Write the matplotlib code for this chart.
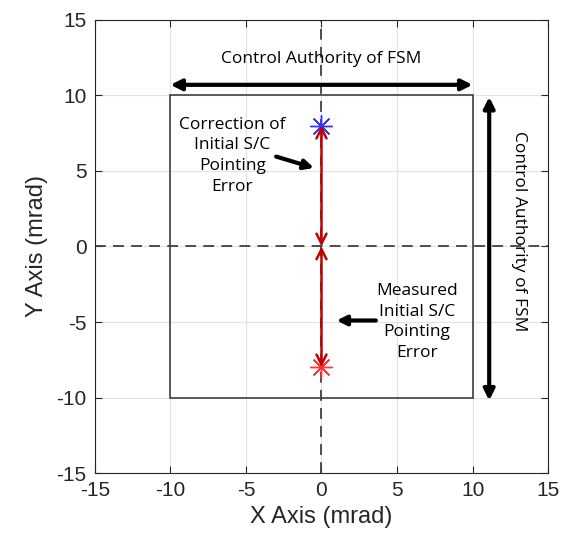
import matplotlib.pyplot as plt
import matplotlib.patches as patches

plt.rcParams["axes.unicode_minus"] = False

# data
ticks = [-15, -10, -5, 0, 5, 10, 15]
fsm_box = [-10, 10, -10, 10]          # xmin, xmax, ymin, ymax
initial_err = (0, -8)                 # measured pointing error (red star)
corrected = (0, 8)                    # correction target (blue star)
origin = (0, 0)

fig = plt.figure(figsize=(5.68, 5.52), dpi=100)
ax = fig.add_axes([0.167, 0.143, 0.798, 0.821])

ax.set_xlim(-15, 15)
ax.set_ylim(-15, 15)
ax.set_xticks(ticks)
ax.set_yticks(ticks)
ax.grid(True, color="#e3e3e3", lw=0.8)
ax.set_axisbelow(True)
ax.tick_params(direction="in", top=True, right=True, length=5, width=0.8,
               labelsize=15, colors="#262626", pad=6)
for lbl in ax.get_xticklabels() + ax.get_yticklabels():
    lbl.set_fontfamily("Liberation Sans")
for s in ax.spines.values():
    s.set_color("#262626")
    s.set_linewidth(0.8)
ax.set_xlabel("X Axis (mrad)", fontsize=17, color="#262626", family="Liberation Sans", labelpad=4)
ax.set_ylabel("Y Axis (mrad)", fontsize=17, color="#262626", family="Liberation Sans", labelpad=6)

# FSM control box
ax.add_patch(patches.Rectangle((fsm_box[0], fsm_box[2]), fsm_box[1] - fsm_box[0],
                               fsm_box[3] - fsm_box[2], fill=False, ec="#404040", lw=1.2))

# dashed axes through origin
ax.axhline(0, color="#404040", ls=(0, (6, 4)), lw=1.3)
ax.axvline(0, color="#404040", ls=(0, (6, 4)), lw=1.3)

# red error vectors
red = "#c00000"
ax.annotate("", xy=corrected, xytext=origin,
            arrowprops=dict(arrowstyle="<->", color=red, lw=1.8, mutation_scale=18, shrinkA=0, shrinkB=0))
ax.annotate("", xy=initial_err, xytext=origin,
            arrowprops=dict(arrowstyle="<->", color=red, lw=1.8, mutation_scale=18, shrinkA=0, shrinkB=0))
ax.plot(*corrected, marker=(8, 2, 0), ms=16, color="#3333ff", mew=1.0)
ax.plot(*initial_err, marker=(8, 2, 0), ms=16, color="#ff3333", mew=1.0)

# annotations
afont = dict(family="Open Sans", fontsize=12.5, color="black")
ax.annotate("", xy=(-10, 10.7), xytext=(10, 10.7), annotation_clip=False,
            arrowprops=dict(arrowstyle="<|-|>", color="black", lw=3, mutation_scale=16, shrinkA=0, shrinkB=0))
ax.text(0, 12.4, "Control Authority of FSM", ha="center", va="center", **afont)
ax.annotate("", xy=(11.1, 9.9), xytext=(11.1, -10.2), annotation_clip=False,
            arrowprops=dict(arrowstyle="<|-|>", color="black", lw=3, mutation_scale=16, shrinkA=0, shrinkB=0))
ax.text(13.1, 1.0, "Control Authority of FSM", ha="center", va="center", rotation=-90, **afont)

ax.text(-5.9, 6.0, "Correction of\nInitial S/C\nPointing\nError", ha="center", va="center",
        multialignment="center", linespacing=1.4, **afont)
ax.annotate("", xy=(-0.5, 5.2), xytext=(-3.0, 5.95),
            arrowprops=dict(arrowstyle="-|>", color="black", lw=3, mutation_scale=14, shrinkA=0, shrinkB=0))
ax.text(6.3, -5.0, "Measured\nInitial S/C\nPointing\nError", ha="center", va="center",
        multialignment="center", linespacing=1.4, **afont)
ax.annotate("", xy=(1.0, -4.9), xytext=(3.6, -4.9),
            arrowprops=dict(arrowstyle="-|>", color="black", lw=3, mutation_scale=14, shrinkA=0, shrinkB=0))

fig.savefig("out.png", dpi=100)
